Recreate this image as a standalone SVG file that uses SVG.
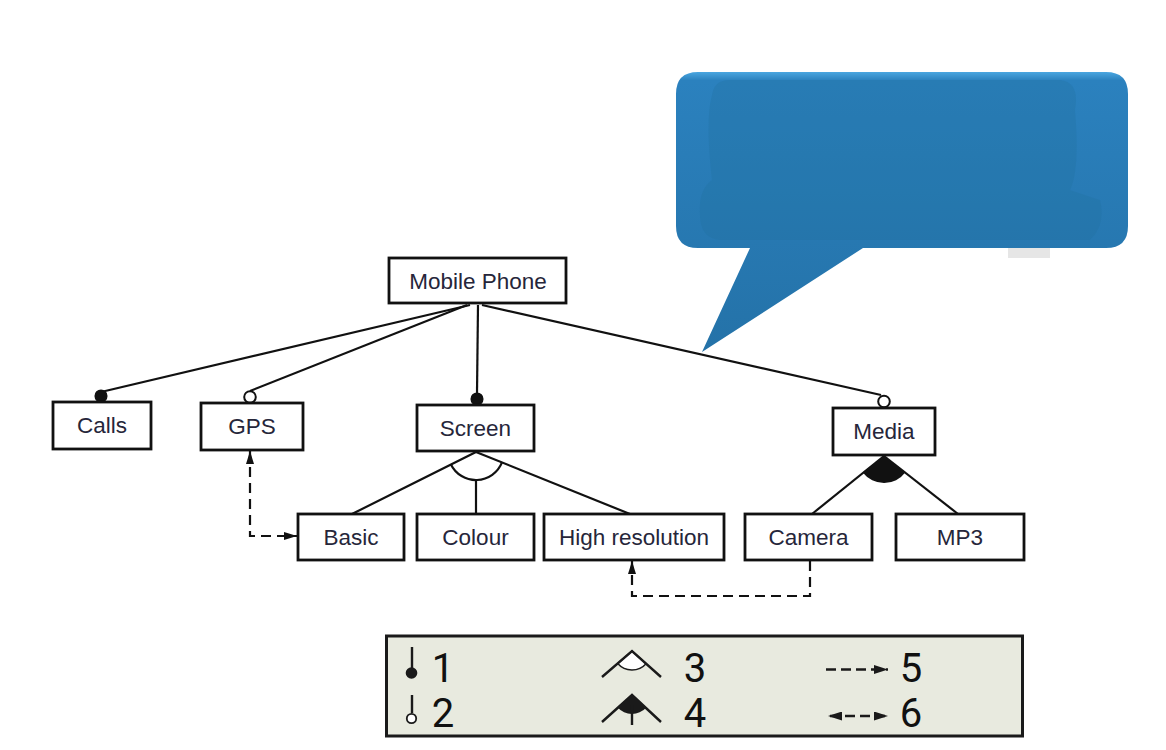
<svg xmlns="http://www.w3.org/2000/svg" width="1166" height="750" viewBox="0 0 1166 750">
  <defs>
    <style>
      .box { fill: #ffffff; stroke: #111111; stroke-width: 2.8; }
      .lbl { font-family: "Liberation Sans", Arial, sans-serif; font-size: 22.5px; fill: #26263a; text-anchor: middle; }
      .ln { stroke: #111111; stroke-width: 2.2; fill: none; }
      .dash { stroke: #111111; stroke-width: 2.2; fill: none; stroke-dasharray: 10 6; }
      .dot { fill: #111111; stroke: #111111; stroke-width: 1.5; }
      .odot { fill: #ffffff; stroke: #111111; stroke-width: 2; }
      .num { font-family: Roboto, "Liberation Sans", sans-serif; font-size: 40px; fill: #111111; text-anchor: middle; }
      .lg { stroke: #1a1a1a; stroke-width: 2.4; fill: none; }
    </style>
    <linearGradient id="bub" x1="0" y1="0" x2="0" y2="1">
      <stop offset="0" stop-color="#4aa6e0"/>
      <stop offset="0.03" stop-color="#2b81be"/>
      <stop offset="1" stop-color="#2472a8"/>
    </linearGradient>
    <marker id="arr" viewBox="0 0 13 8" refX="13" refY="4" markerWidth="13" markerHeight="8" markerUnits="userSpaceOnUse" orient="auto-start-reverse">
      <path d="M0,0 L13,4 L0,8 z" fill="#111111"/>
    </marker>
    <marker id="arrS" viewBox="0 0 14 9" refX="14" refY="4.5" markerWidth="14" markerHeight="9" markerUnits="userSpaceOnUse" orient="auto-start-reverse">
      <path d="M0,0 L14,4.5 L0,9 z" fill="#1a1a1a"/>
    </marker>
  </defs>

  <rect width="1166" height="750" fill="#ffffff"/>

  <!-- speech bubble -->
  <g id="bubble">
    <rect x="1008" y="246" width="42" height="12" fill="#e6e6e6"/>
    <path d="M698,72 H1106 Q1128,72 1128,94 V226 Q1128,248 1106,248 H863 L702,352 L750,248 H698 Q676,248 676,226 V94 Q676,72 698,72 Z" fill="url(#bub)"/>
    <path d="M730,80 H1060 Q1080,82 1075,110 Q1080,170 1070,190 L1100,200 Q1106,225 1090,240 H720 Q700,238 700,215 Q698,190 712,180 Q705,120 712,95 Q714,80 730,80 Z" fill="#22709f" opacity="0.3"/>
  </g>

  <!-- connectors -->
  <g id="connectors">
    <line class="ln" x1="470" y1="305" x2="101" y2="392"/>
    <line class="ln" x1="467" y1="305" x2="250" y2="391"/>
    <line class="ln" x1="478" y1="305" x2="477" y2="393"/>
    <line class="ln" x1="482" y1="305" x2="881" y2="395"/>
    <circle class="dot" cx="101" cy="396" r="5.8"/>
    <circle class="odot" cx="250" cy="397" r="5.8"/>
    <circle class="dot" cx="477" cy="399" r="5.8"/>
    <circle class="odot" cx="884" cy="401.5" r="5.8"/>

    <!-- Screen alternative (open) -->
    <line class="ln" x1="476" y1="452" x2="352" y2="514"/>
    <line class="ln" x1="476" y1="452" x2="630" y2="514"/>
    <line class="ln" x1="476" y1="481" x2="476" y2="514"/>
    <path class="ln" d="M450.8,464.2 A28,28 0 0,0 502.1,462.2"/>

    <!-- Media alternative (filled) -->
    <line class="ln" x1="884" y1="456" x2="812" y2="514"/>
    <line class="ln" x1="884" y1="456" x2="958" y2="514"/>
    <path d="M884,456 L862.7,472.6 A27,27 0 0,0 905.5,472.3 Z" fill="#111111"/>

    <!-- dashed constraints -->
    <path class="dash" d="M250,451 V536 H297" marker-start="url(#arr)" marker-end="url(#arr)"/>
    <path class="dash" d="M810,561 V596 H632 V561" marker-end="url(#arr)"/>
  </g>

  <!-- nodes -->
  <g id="mobile-phone"><rect class="box" x="389" y="258" width="177" height="45"/><text class="lbl" x="478" y="289">Mobile Phone</text></g>
  <g id="calls"><rect class="box" x="53" y="402" width="98" height="47"/><text class="lbl" x="102" y="433">Calls</text></g>
  <g id="gps"><rect class="box" x="201" y="403" width="102" height="47"/><text class="lbl" x="252" y="434">GPS</text></g>
  <g id="screen"><rect class="box" x="417" y="405" width="117" height="46"/><text class="lbl" x="475.5" y="436">Screen</text></g>
  <g id="media"><rect class="box" x="833" y="408" width="102" height="47"/><text class="lbl" x="884" y="439">Media</text></g>
  <g id="basic"><rect class="box" x="298" y="514" width="106" height="46"/><text class="lbl" x="351" y="544.5">Basic</text></g>
  <g id="colour"><rect class="box" x="417" y="514" width="117" height="46"/><text class="lbl" x="475.5" y="544.5">Colour</text></g>
  <g id="high-resolution"><rect class="box" x="544" y="514" width="180" height="46"/><text class="lbl" x="634" y="544.5">High resolution</text></g>
  <g id="camera"><rect class="box" x="745" y="514" width="127" height="46"/><text class="lbl" x="808.5" y="544.5">Camera</text></g>
  <g id="mp3"><rect class="box" x="896" y="514" width="128" height="46"/><text class="lbl" x="960" y="544.5">MP3</text></g>

  <!-- legend -->
  <g id="legend">
    <rect x="386.5" y="636" width="636" height="100" fill="#e8eadf" stroke="#1a1a1a" stroke-width="3"/>
    <line class="lg" x1="412" y1="647" x2="412" y2="668"/>
    <circle cx="411.5" cy="673" r="5.8" fill="#1a1a1a"/>
    <text class="num" x="443" y="682">1</text>
    <line class="lg" x1="412" y1="695" x2="412" y2="713"/>
    <circle cx="411.5" cy="718.5" r="4.7" fill="#ffffff" stroke="#1a1a1a" stroke-width="1.8"/>
    <text class="num" x="443" y="727">2</text>

    <path d="M632,651 L617.7,663.5 A19,19 0 0,0 646.1,663.7 Z" fill="#ffffff" stroke="#1a1a1a" stroke-width="1.5"/>
    <path class="lg" d="M602,677 L632,651 L661,677"/>
    <text class="num" x="695" y="682">3</text>
    <path d="M632,695 L617.7,707.5 A19,19 0 0,0 646.1,707.7 Z" fill="#1a1a1a"/>
    <path class="lg" d="M602,722 L632,695 L661,722 M632,705 V725"/>
    <text class="num" x="695" y="727">4</text>

    <path d="M826,669.5 H888" stroke="#1a1a1a" stroke-width="2.6" stroke-dasharray="10 5" fill="none" marker-end="url(#arrS)"/>
    <text class="num" x="911" y="682">5</text>
    <path d="M828,716 H888" stroke="#1a1a1a" stroke-width="2.6" stroke-dasharray="10 5" stroke-dashoffset="-2" fill="none" marker-start="url(#arrS)" marker-end="url(#arrS)"/>
    <text class="num" x="911" y="727">6</text>
  </g>
</svg>
